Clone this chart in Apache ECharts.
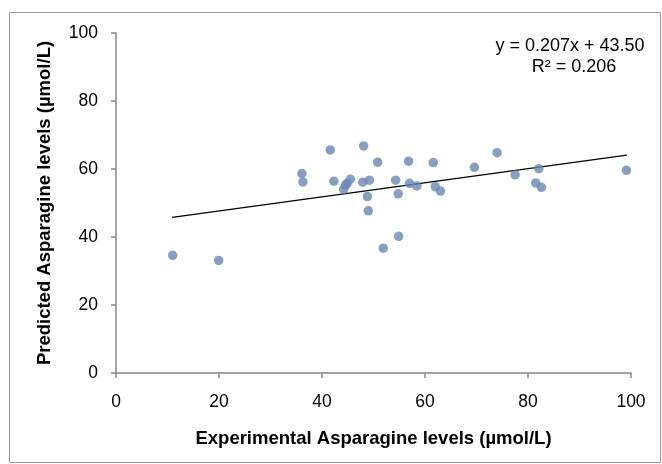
<!DOCTYPE html>
<html>
<head>
<meta charset="utf-8">
<script src="https://cdn.jsdelivr.net/npm/echarts@6/dist/echarts.min.js"></script>
<style>
html,body{margin:0;padding:0;background:#fff;}
#c{width:662px;height:464px;}
</style>
</head>
<body>
<div id="c"></div>
<script>
var xValues = [11.0, 19.95, 36.1, 36.3, 41.6, 42.3, 44.2, 44.6, 44.9, 45.5, 48.1, 47.9, 49.2, 48.8, 49.0, 50.8, 51.9, 54.9, 54.3, 54.8, 56.8, 57.0, 58.4, 61.6, 62.0, 63.0, 69.6, 74.0, 77.5, 82.1, 81.5, 82.6, 99.1];
var yValues = [34.6, 33.1, 58.7, 56.2, 65.6, 56.4, 54.0, 55.3, 55.8, 57.0, 66.8, 56.1, 56.7, 51.9, 47.7, 62.0, 36.7, 40.2, 56.7, 52.7, 62.3, 55.8, 55.0, 61.9, 54.8, 53.5, 60.5, 64.8, 58.3, 60.1, 55.9, 54.6, 59.6];
var trendX = [10.9, 99.2];
var trendY = [45.8, 64.1];
var equationLines = ['y = 0.207x + 43.50', 'R² = 0.206'];
var xTitle = 'Experimental Asparagine levels (µmol/L)';
var yTitle = 'Predicted Asparagine levels (µmol/L)';

var points = xValues.map(function(x, i){ return [x, yValues[i]]; });
var trend = trendX.map(function(x, i){ return [x, trendY[i]]; });

var font = 'Liberation Sans, Arial, sans-serif';
var axisColor = '#868686';
var chart = echarts.init(document.getElementById('c'), null, {renderer: 'canvas'});
chart.setOption({
  animation: false,
  backgroundColor: '#fff',
  grid: {left: 116, right: 31, top: 33, bottom: 91, containLabel: false},
  graphic: [
    {type: 'rect', shape: {x: 9.5, y: 12.5, width: 651, height: 450}, style: {fill: 'none', stroke: '#9a9a9a', lineWidth: 1}, silent: true},
    {type: 'text', x: 570, y: 46, style: {text: equationLines[0], font: '18px ' + font, fill: '#000', align: 'center', verticalAlign: 'middle'}},
    {type: 'text', x: 574, y: 67, style: {text: equationLines[1], font: '18px ' + font, fill: '#000', align: 'center', verticalAlign: 'middle'}}
  ],
  xAxis: {
    type: 'value', min: 0, max: 100, interval: 20,
    name: xTitle, nameLocation: 'middle', nameGap: 56,
    nameTextStyle: {fontFamily: font, fontSize: 18.5, fontWeight: 'bold', color: '#000'},
    axisLine: {show: true, onZero: false, lineStyle: {color: axisColor, width: 1.5}},
    axisTick: {show: true, inside: false, length: 5, lineStyle: {color: axisColor, width: 1.5}},
    axisLabel: {fontFamily: font, fontSize: 17.5, color: '#000', margin: 20},
    splitLine: {show: false}
  },
  yAxis: {
    type: 'value', min: 0, max: 100, interval: 20,
    name: yTitle, nameLocation: 'middle', nameGap: 62, nameRotate: 90,
    nameTextStyle: {fontFamily: font, fontSize: 18.5, fontWeight: 'bold', color: '#000'},
    axisLine: {show: true, onZero: false, lineStyle: {color: axisColor, width: 1.5}},
    axisTick: {show: true, inside: false, length: 5, lineStyle: {color: axisColor, width: 1.5}},
    axisLabel: {fontFamily: font, fontSize: 17.5, color: '#000', margin: 18},
    splitLine: {show: false}
  },
  series: [
    {
      type: 'scatter', data: points, symbol: 'circle', symbolSize: 9.5,
      itemStyle: {color: '#6b87b1'}, z: 3
    },
    {
      type: 'line', data: trend, symbol: 'none', showSymbol: false,
      lineStyle: {color: '#000', width: 1.3}, z: 2
    }
  ]
});
</script>
</body>
</html>
